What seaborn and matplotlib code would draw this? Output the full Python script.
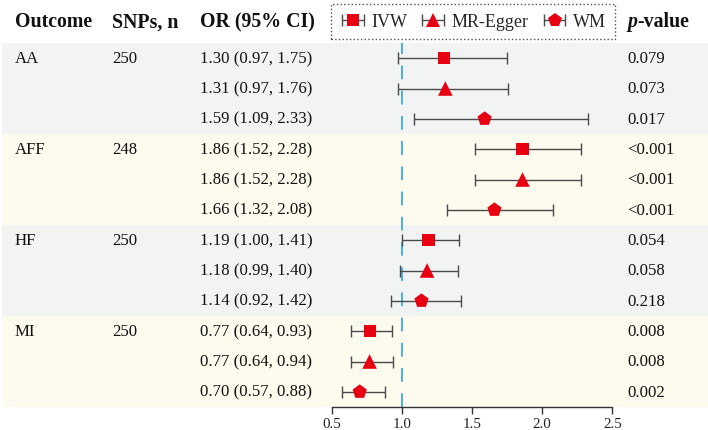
import matplotlib

matplotlib.use('Agg')

import pandas as pd
import seaborn as sns
import matplotlib.pyplot as plt
import matplotlib.transforms as mtransforms
from matplotlib.lines import Line2D
from matplotlib.container import ErrorbarContainer
from matplotlib.legend_handler import HandlerErrorbar, HandlerTuple

# ---- data ----
outcomes = ['AA', 'AFF', 'HF', 'MI']
snps_n = [250, 248, 250, 250]
methods = ['IVW', 'MR-Egger', 'WM']

or_est = [1.30, 1.31, 1.59,
          1.86, 1.86, 1.66,
          1.19, 1.18, 1.14,
          0.77, 0.77, 0.70]
ci_low = [0.97, 0.97, 1.09,
          1.52, 1.52, 1.32,
          1.00, 0.99, 0.92,
          0.64, 0.64, 0.57]
ci_high = [1.75, 1.76, 2.33,
           2.28, 2.28, 2.08,
           1.41, 1.40, 1.42,
           0.93, 0.94, 0.88]
p_values = ['0.079', '0.073', '0.017',
            '<0.001', '<0.001', '<0.001',
            '0.054', '0.058', '0.218',
            '0.008', '0.008', '0.002']
x_ticks = [0.5, 1.0, 1.5, 2.0, 2.5]

RED = '#e60012'
BAR = '#4a4a4a'
band_colors = ['#f2f4f4', '#fdfaee']
marker_map = {'IVW': 's', 'MR-Egger': '^', 'WM': 'p'}
size_map = {'IVW': 75, 'MR-Egger': 110, 'WM': 115}
legend_ms = {'IVW': 8, 'MR-Egger': 10.5, 'WM': 10}


def main():
    df = pd.DataFrame({
        'outcome': [o for o in outcomes for _ in methods],
        'method': methods * len(outcomes),
        'OR': or_est, 'lo': ci_low, 'hi': ci_high, 'p': p_values,
    })
    df['row'] = range(len(df))

    sns.set_theme(style='white')
    plt.rcParams['font.family'] = ['Liberation Serif', 'DejaVu Serif']

    W, H = 708, 431
    fig = plt.figure(figsize=(W / 100, H / 100), dpi=100)
    x0, x1 = 331.7, 612.3
    y_top, y_bot = 44, 408
    ax = fig.add_axes([x0 / W, (H - y_bot) / H, (x1 - x0) / W, (y_bot - y_top) / H])

    # background bands across the whole width
    left_frac = (2 - x0) / (x1 - x0)
    right_frac = (W - x0) / (x1 - x0)
    for g in range(len(outcomes)):
        ax.axhspan(g * 3 - 0.5, g * 3 + 2.5, xmin=left_frac, xmax=right_frac,
                   color=band_colors[g % 2], lw=0, clip_on=False, zorder=0)

    ax.axvline(1.0, color='#1f9ad6', lw=1.1, dashes=(9, 7.5), zorder=1)

    # error bars per method
    eb_handles = {}
    for m in methods:
        sub = df[df['method'] == m]
        eb = ax.errorbar(sub['OR'], sub['row'],
                         xerr=[sub['OR'] - sub['lo'], sub['hi'] - sub['OR']],
                         fmt='none', ecolor=BAR, elinewidth=1, capsize=4.5,
                         capthick=1, zorder=2)
        eb_handles[m] = eb

    sns.scatterplot(data=df, x='OR', y='row', style='method', markers=marker_map,
                    size='method', sizes=size_map, color=RED, linewidth=0,
                    legend=False, ax=ax, zorder=3)

    ax.set_xlim(0.5, 2.5)
    ax.set_ylim(len(df) - 0.5, -0.5)
    ax.set_xticks(x_ticks)
    ax.set_xticklabels([f'{t:.1f}' for t in x_ticks])
    ax.set_xlabel('')
    ax.set_ylabel('')
    ax.set_yticks([])
    for s in ['top', 'left', 'right']:
        ax.spines[s].set_visible(False)
    ax.spines['bottom'].set_color('#333333')
    ax.spines['bottom'].set_linewidth(1)
    ax.tick_params(axis='x', bottom=True, length=5, width=1, color='#333333',
                   labelsize=10.8, pad=2, labelcolor='#222222')
    ax.patch.set_alpha(0)

    # table text
    tr = mtransforms.blended_transform_factory(fig.transFigure, ax.transData)
    col_x = [15 / W, 112 / W, 200 / W, 627 / W]
    body = dict(fontsize=12.1, va='center', color='#111111', transform=tr, clip_on=False)
    for g, (o, n) in enumerate(zip(outcomes, snps_n)):
        ax.text(col_x[0], g * 3, o, **body)
        ax.text(col_x[1], g * 3, str(n), **body)
    for _, r in df.iterrows():
        ax.text(col_x[2], r['row'], f"{r['OR']:.2f} ({r['lo']:.2f}, {r['hi']:.2f})", **body)
        ax.text(col_x[3], r['row'], r['p'], **body)

    head = dict(fontsize=14.3, fontweight='bold', va='center', color='#111111',
                transform=tr, clip_on=False)
    hy = -1.22
    ax.text(col_x[0], hy, 'Outcome', **head)
    ax.text(col_x[1], hy, 'SNPs, n', **head)
    ax.text(col_x[2], hy, 'OR (95% CI)', **head)
    pt = ax.text(col_x[3], hy, 'p', fontstyle='italic', **head)
    ax.annotate('-value', xy=(1, 0), xycoords=pt, va='bottom', ha='left',
                fontsize=14.3, fontweight='bold', color='#111111')

    # legend: error bar + marker overlaid
    handles = []
    for m in methods:
        mk = Line2D([], [], marker=marker_map[m], color=RED, ls='none',
                    markersize=legend_ms[m], markeredgewidth=0)
        handles.append((eb_handles[m], mk))
    leg = fig.legend(handles, methods, loc='center',
                     bbox_to_anchor=(473 / W, 1 - 22.5 / H),
                     ncol=3, fontsize=13, frameon=True, fancybox=False,
                     handlelength=1.4, handletextpad=0.3, columnspacing=0.75,
                     borderpad=0.5,
                     handler_map={tuple: HandlerTuple(ndivide=1),
                                  ErrorbarContainer: HandlerErrorbar(xerr_size=0.6)})
    frame = leg.get_frame()
    frame.set_edgecolor('#222222')
    frame.set_linestyle(':')
    frame.set_linewidth(1)

    fig.savefig('out.png', dpi=100)


if __name__ == "__main__":
    main()
